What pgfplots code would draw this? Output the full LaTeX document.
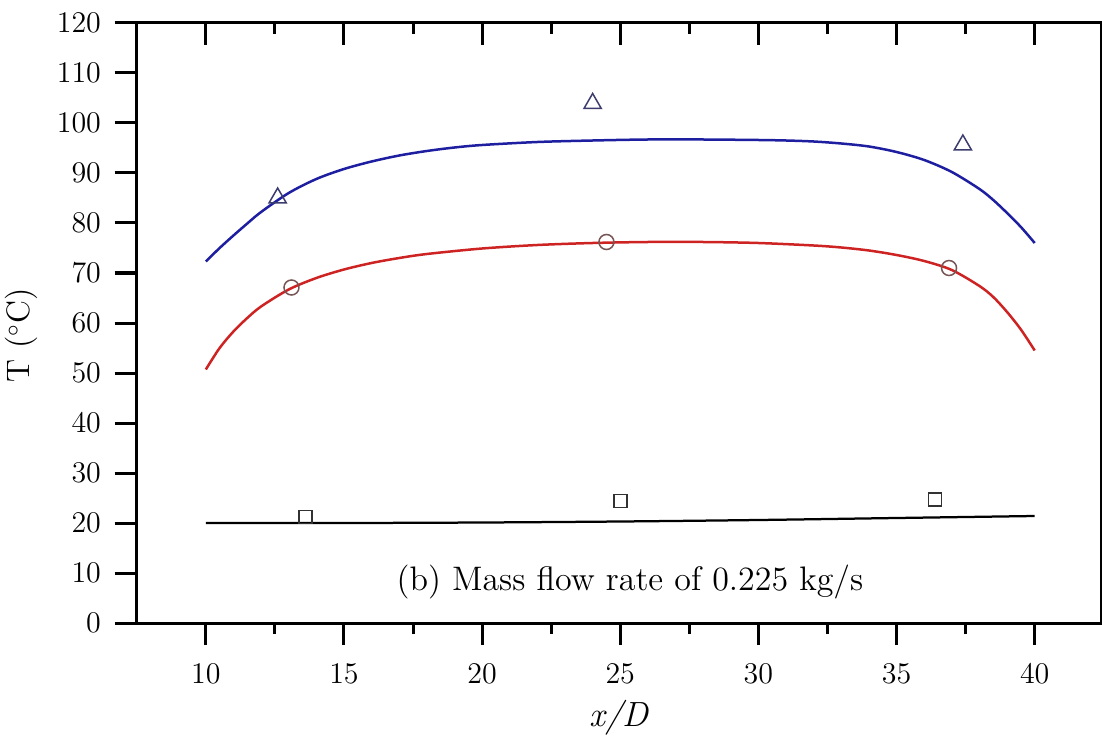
\documentclass[border=0pt]{standalone}
\usepackage{pgfplots}
\pgfplotsset{compat=1.18}
\definecolor{bluecurve}{RGB}{30,30,160}
\definecolor{redcurve}{RGB}{205,35,35}
\definecolor{trimark}{RGB}{60,60,110}
\definecolor{circmark}{RGB}{120,85,85}
\definecolor{sqmark}{RGB}{50,50,50}
\begin{document}
\begin{tikzpicture}
\useasboundingbox (-54.7pt,-45.3pt) rectangle (386.1pt,249.2pt);
\begin{axis}[
  at={(0,0)}, anchor=south west,
  scale only axis, width=385.7pt, height=240pt,
  xmin=7.5, xmax=42.4, ymin=0, ymax=120,
  axis line style={line width=1.2pt},
  xtick={10,15,...,40}, minor xtick={12.5,17.5,...,37.5},
  ytick={0,10,...,120},
  xtick pos=bottom, ytick pos=left,
  tick align=outside,
  major tick length=8.8pt, minor tick length=4.4pt,
  every tick/.style={line width=1.2pt, black},
  ticklabel style={font=\fontsize{12}{14}\selectfont},
  xticklabel style={yshift=-4pt},
  yticklabel style={xshift=-2pt},
  xlabel={\fontsize{14}{16}\selectfont\itshape x/D},
  ylabel={\fontsize{13}{15}\selectfont T ($^\circ$C)},
  xlabel style={at={(axis description cs:0.5,0)}, anchor=center, yshift=-38pt},
  ylabel style={at={(axis description cs:0,0.48)}, anchor=center, rotate=0, yshift=46pt},
  clip=false,
]
\addplot[bluecurve, line width=1pt, smooth] coordinates {
(10,72.3) (10.5,75.0) (11,77.5) (11.5,79.9) (12,82.2) (13,86.0) (14,88.8) (15,90.8) (16,92.3) (17,93.5) (18,94.4) (19,95.1) (20,95.6) (22,96.2) (24,96.5) (26,96.7) (28,96.7) (30,96.6) (31,96.5) (32,96.3) (33,95.9) (34,95.3) (35,94.2) (36,92.6) (37,90.2) (38,86.8) (38.5,84.6) (39,82.0) (39.5,79.2) (40,76.0)
};
\addplot[redcurve, line width=1pt, smooth] coordinates {
(10,50.7) (10.5,55.0) (11,58.3) (11.5,61.0) (12,63.3) (13,66.7) (14,69.0) (15,70.7) (16,72.0) (17,73.0) (18,73.8) (20,74.9) (22,75.6) (24,76.0) (26,76.2) (28,76.2) (30,76.0) (32,75.5) (33,75.1) (34,74.5) (35,73.6) (36,72.4) (37,70.6) (38,67.4) (38.5,65.2) (39,62.2) (39.5,58.7) (40,54.5)
};
\addplot[black, line width=0.9pt, smooth] coordinates {
(10,20.0) (15,20.0) (20,20.1) (25,20.3) (30,20.6) (35,21.0) (40,21.4)
};
\addplot[only marks, mark=triangle, mark size=4pt, mark options={draw=trimark, fill=white, line width=0.6pt}] coordinates {
(12.6,85.0) (24.0,103.9) (37.4,95.6)
};
\addplot[only marks, mark=o, mark size=3pt, mark options={draw=circmark, fill=white, line width=0.6pt}] coordinates {
(13.1,67.1) (24.5,76.2) (36.9,71.0)
};
\addplot[only marks, mark=square, mark size=2.6pt, mark options={draw=sqmark, fill=white, line width=0.6pt}] coordinates {
(13.6,21.2) (25.0,24.4) (36.4,24.7)
};
\node[font=\fontsize{13.6}{16}\selectfont] at (axis cs:25.35,8.1) {(b) Mass flow rate of 0.225 kg/s};
\end{axis}
\begin{axis}[
  at={(0,0)}, anchor=south west,
  scale only axis, width=385.7pt, height=240pt,
  xmin=7.5, xmax=42.4, ymin=0, ymax=120,
  axis line style={draw=none},
  xtick={10,15,...,40}, minor xtick={12.5,17.5,...,37.5},
  ytick=\empty,
  xtick pos=top, tick align=inside,
  xticklabels={},
  major tick length=8.8pt, minor tick length=4.4pt,
  every tick/.style={line width=1.2pt, black},
]
\end{axis}
\end{tikzpicture}
\end{document}
